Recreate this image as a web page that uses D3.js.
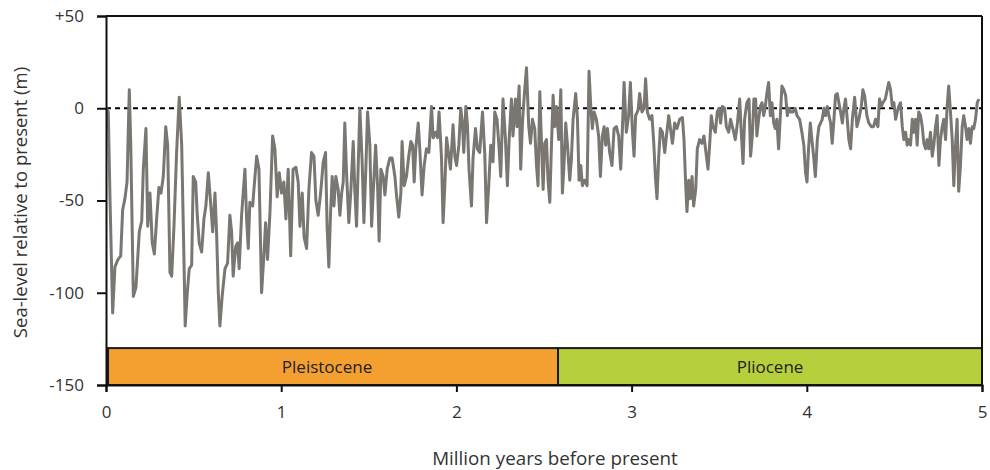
<!DOCTYPE html>
<html><head><meta charset="utf-8">
<script src="https://cdn.jsdelivr.net/npm/d3@7"></script>
<style>body{margin:0;background:#fff}svg{display:block}text{font-family:"Open Sans",Lato,sans-serif}</style>
</head><body><svg id="c" width="990" height="470"></svg>
<script>
const ages = [0.003,0.013,0.023,0.038,0.051,0.068,0.084,0.095,0.108,0.120,0.133,0.141,0.156,0.171,0.190,0.204,0.213,0.228,0.238,0.251,0.264,0.276,0.289,0.302,0.314,0.327,0.341,0.352,0.365,0.375,0.388,0.403,0.418,0.432,0.445,0.452,0.464,0.475,0.489,0.498,0.512,0.521,0.532,0.546,0.559,0.570,0.584,0.597,0.609,0.622,0.631,0.641,0.650,0.663,0.679,0.694,0.707,0.717,0.726,0.740,0.751,0.760,0.774,0.793,0.803,0.812,0.821,0.837,0.846,0.860,0.873,0.888,0.901,0.911,0.922,0.936,0.951,0.964,0.977,0.989,1.002,1.015,1.027,1.040,1.054,
1.068,1.084,1.097,1.107,1.120,1.131,1.145,1.158,1.173,1.187,1.198,1.211,1.225,1.240,1.253,1.262,1.272,1.282,1.291,1.301,1.312,1.325,1.335,1.345,1.354,1.363,1.373,1.386,1.398,1.411,1.420,1.430,1.439,1.449,1.462,1.472,1.483,1.493,1.506,1.516,1.525,1.539,1.550,1.559,1.569,1.582,1.592,1.605,1.620,1.633,1.649,1.658,1.671,1.683,1.690,1.702,1.715,1.728,1.740,1.750,1.759,1.768,1.782,1.791,1.804,1.816,1.829,1.843,1.858,1.867,1.881,1.892,1.901,1.915,1.924,1.934,1.944,1.957,1.966,1.981,1.991,2.001,2.014,2.025,2.035,2.042,2.054,2.063,2.072,2.086,2.095,2.109,2.120,2.133,2.149,
2.162,2.172,2.185,2.196,2.209,2.219,2.232,2.244,2.253,2.266,2.280,2.291,2.301,2.314,2.323,2.337,2.346,2.358,2.367,2.377,2.386,2.400,2.413,2.423,2.434,2.447,2.457,2.466,2.476,2.485,2.495,2.504,2.514,2.523,2.533,2.542,2.552,2.561,2.571,2.584,2.596,2.605,2.614,2.624,2.634,2.647,2.656,2.666,2.681,2.691,2.700,2.710,2.719,2.732,2.746,2.757,2.767,2.776,2.786,2.799,2.812,2.822,2.833,2.843,2.852,2.862,2.875,2.888,2.900,2.913,2.926,2.938,2.948,2.957,2.970,2.983,2.993,3.005,3.014,3.023,3.037,3.046,3.059,3.071,3.080,3.090,3.103,3.116,3.126,3.137,3.145,3.155,3.164,3.176,3.189,3.199,3.212,
3.233,3.246,3.259,3.274,3.290,3.299,3.309,3.316,3.326,3.335,3.345,3.354,3.366,3.375,3.388,3.402,3.413,3.427,3.436,3.446,3.455,3.464,3.478,3.489,3.499,3.508,3.518,3.531,3.541,3.554,3.565,3.578,3.592,3.604,3.617,3.626,3.636,3.645,3.658,3.670,3.679,3.689,3.698,3.708,3.715,3.725,3.735,3.744,3.754,3.763,3.772,3.782,3.792,3.801,3.811,3.820,3.829,3.839,3.849,3.858,3.869,3.879,3.889,3.898,3.908,3.921,3.934,3.944,3.959,3.972,3.983,3.993,4.001,4.010,4.020,4.029,4.039,4.049,4.060,4.069,4.079,4.088,4.098,4.107,4.117,4.126,4.136,4.145,4.155,4.164,4.174,4.183,4.193,4.203,4.212,4.221,4.231,4.240,
4.250,4.260,4.273,4.286,4.297,4.311,4.320,4.330,4.343,4.354,4.368,4.381,4.392,4.406,4.415,4.425,4.434,4.448,4.459,4.468,4.478,4.488,4.497,4.507,4.516,4.525,4.535,4.545,4.554,4.564,4.573,4.582,4.592,4.602,4.611,4.621,4.630,4.639,4.649,4.659,4.668,4.678,4.687,4.696,4.706,4.716,4.725,4.735,4.744,4.754,4.763,4.773,4.782,4.792,4.801,4.810,4.820,4.830,4.839,4.849,4.858,4.867,4.877,4.887,4.896,4.906,4.915,4.925,4.934,4.944,4.953,4.963,4.973,4.982];
const seaLevel = [0,-2,-50,-111,-86,-82,-80,-55,-49,-40,10,-18,-102,-97,-67,-61,-33,-11,-64,-46,-73,-79,-60,-43,-46,-37,-10,-20,-89,-91,-64,-24,6,-20,-82,-118,-100,-87,-85,-37,-40,-58,-73,-78,-60,-53,-35,-51,-67,-46,-67,-100,-118,-102,-87,-84,-58,-67,-91,-75,-73,-87,-58,-33,-61,-76,-51,-53,-42,-26,-33,-100,-80,-62,-82,-56,-15,-22,-48,-35,-46,-40,-60,-33,-80,
-33,-32,-40,-64,-46,-70,-76,-44,-24,-26,-50,-58,-46,-29,-24,-64,-86,-56,-37,-53,-37,-44,-58,-46,-40,-8,-35,-62,-44,-18,-44,-64,-33,0,-29,-62,-33,-2,-20,-64,-46,-20,-42,-72,-33,-37,-47,-33,-27,-27,-37,-47,-59,-46,-18,-42,-37,-26,-18,-20,-40,-22,-8,-22,-47,-31,-22,-24,1,-16,-13,-16,-2,-27,-62,-42,-16,-26,-33,-9,-26,-31,-20,0,-9,-24,1,-9,-33,-53,-27,-11,-22,-24,-2,
-25,-62,-41,-20,-29,-2,-6,-22,-37,5,-17,-42,-17,5,-15,5,-10,12,-33,-8,5,22,-10,-19,-6,-11,-31,-42,9,-17,-44,-19,-17,-39,-51,-22,7,-10,1,-17,10,-46,-31,-8,-20,-39,-28,-6,8,-6,-39,-31,-42,-39,-42,20,1,-11,-2,-6,-15,-37,-15,-10,-20,-11,-24,-31,-11,-10,-15,-33,-10,14,-13,-4,14,-13,-26,-4,-1,8,-2,0,16,-2,-6,-4,-18,-39,-49,-26,-11,-13,-24,-15,-4,
-19,-8,-11,-6,-5,-17,-42,-56,-39,-49,-37,-53,-44,-22,-17,-19,-15,-26,-33,-19,-4,-10,-13,-2,0,-8,1,0,-10,-13,-6,-11,-17,-8,5,-13,-30,-6,3,5,-26,-15,5,5,-15,-6,1,3,-4,1,8,14,-4,3,-8,-11,-6,-22,-4,12,10,7,-4,0,-2,-2,0,-4,-6,-13,-20,-35,-40,-22,-8,-17,-26,-37,-17,-10,-8,-6,0,-4,1,-4,-8,-19,-6,7,8,3,-2,-8,0,5,-6,-17,
-22,-6,6,-10,-6,1,10,7,-4,-8,-10,-10,-6,-10,5,1,3,5,10,14,10,1,3,-6,-2,1,3,-10,-17,-13,-20,-17,-20,-6,-13,-6,-20,-2,-4,-10,-19,-22,-17,-22,-13,-26,-20,-10,-4,-31,-17,-10,-6,-17,1,12,-2,-17,-42,-20,-6,-45,-31,-10,-4,-10,-17,-11,-19,-10,-11,-6,3,5];
const epochs = ["Pleistocene","Pliocene"];
const epochStart = [0.0117,2.58];
const epochEnd = [2.58,5];
const epochColors = ["#F4A031","#B6CF3C"];
const yTicks = [50,0,-50,-100,-150];
const yTickLabels = ["+50","0","-50","-100","-150"];
const xTicks = [0,1,2,3,4,5];

const svg = d3.select("#c");
const m = {l:106,t:16,r:8,b:85};
const W = 990, H = 470;
const x = d3.scaleLinear().domain([0,5]).range([m.l, W-m.r]);
const y = d3.scaleLinear().domain([-150,50]).range([H-m.b, m.t]);
const FONT = "'Open Sans', Lato, sans-serif";

// epoch bar
svg.append("rect").attr("x",x(0)).attr("y",y(-130)).attr("width",x(epochStart[0])-x(0)+1).attr("height",y(-150)-y(-130)).attr("fill","#111");
epochs.forEach((e,i)=>{
  svg.append("rect").attr("x",x(epochStart[i])).attr("y",y(-130)).attr("width",x(epochEnd[i])-x(epochStart[i])).attr("height",y(-150)-y(-130))
    .attr("fill",epochColors[i]).attr("stroke","#1a1a1a").attr("stroke-width",2);
  svg.append("text").attr("x",(x(epochStart[i])+x(epochEnd[i]))/2 - (i===0?6:0)).attr("y",(y(-130)+y(-150))/2).attr("dy","0.36em")
    .attr("text-anchor","middle").attr("font-size",17).attr("fill","#222").text(e);
});

// zero line
svg.append("line").attr("x1",x(0)).attr("x2",x(5)).attr("y1",y(0)).attr("y2",y(0))
  .attr("stroke","#000").attr("stroke-width",1.8).attr("stroke-dasharray","5,4");

// series
const pts = ages.map((a,i)=>[a,seaLevel[i]]);
svg.append("path").datum(pts).attr("fill","none").attr("stroke","#7A7672").attr("stroke-width",3).attr("stroke-linejoin","round")
  .attr("d", d3.line().x(d=>x(d[0])).y(d=>y(d[1])));

// frame
svg.append("line").attr("x1",x(0)).attr("x2",x(5)).attr("y1",y(50)).attr("y2",y(50)).attr("stroke","#111").attr("stroke-width",2);
svg.append("line").attr("x1",x(5)).attr("x2",x(5)).attr("y1",y(50)).attr("y2",y(-150)).attr("stroke","#111").attr("stroke-width",2);

// axes
const ya = svg.append("g").attr("transform",`translate(${x(0)},0)`)
  .call(d3.axisLeft(y).tickValues(yTicks).tickFormat((d,i)=>yTickLabels[i]).tickSize(9).tickPadding(13));
const xa = svg.append("g").attr("transform",`translate(0,${y(-150)})`)
  .call(d3.axisBottom(x).tickValues(xTicks).tickFormat(d3.format("d")).tickSize(7).tickPadding(14));
[ya,xa].forEach(g=>{
  g.select(".domain").attr("stroke","#111").attr("stroke-width",2);
  g.selectAll(".tick line").attr("stroke","#111").attr("stroke-width",2);
  g.selectAll(".tick text").attr("font-size",17).attr("fill","#333").attr("font-family",FONT);
});

svg.append("text").attr("transform",`translate(27,${(y(50)+y(-150))/2+2}) rotate(-90)`).attr("text-anchor","middle")
  .attr("font-size",18.5).attr("fill","#333").text("Sea-level relative to present (m)");
svg.append("text").attr("x",555).attr("y",465).attr("text-anchor","middle").attr("font-size",18.8).attr("fill","#333").text("Million years before present");
</script></body></html>
